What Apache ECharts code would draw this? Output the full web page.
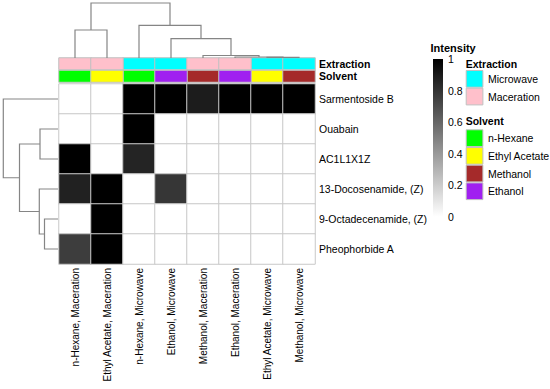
<!DOCTYPE html>
<html>
<head>
<meta charset="utf-8">
<script src="https://cdn.jsdelivr.net/npm/echarts@6/dist/echarts.min.js"></script>
<style>html,body{margin:0;padding:0;background:#fff}#c{width:550px;height:389px}</style>
</head>
<body>
<div id="c"></div>
<script>
// ---- data ----
var rowNames = ['Sarmentoside B', 'Ouabain', 'AC1L1X1Z', '13-Docosenamide, (Z)', '9-Octadecenamide, (Z)', 'Pheophorbide A'];
var colExtraction = ['Maceration', 'Maceration', 'Microwave', 'Microwave', 'Maceration', 'Maceration', 'Microwave', 'Microwave'];
var colSolvent = ['n-Hexane', 'Ethyl Acetate', 'n-Hexane', 'Ethanol', 'Methanol', 'Ethanol', 'Ethyl Acetate', 'Methanol'];
var intensity = [
  [0, 0, 1, 1, 0.89, 1, 1, 1],
  [0, 0, 1, 0, 0, 0, 0, 0],
  [1, 0, 0.86, 0, 0, 0, 0, 0],
  [0.87, 1, 0, 0.79, 0, 0, 0, 0],
  [0, 1, 0, 0, 0, 0, 0, 0],
  [0.76, 1, 0, 0, 0, 0, 0, 0]
];
var intensityTicks = [0, 0.2, 0.4, 0.6, 0.8, 1];
var extractionLevels = ['Microwave', 'Maceration'];
var extractionColors = ['#00FFFF', '#FFC0CB'];
var solventLevels = ['n-Hexane', 'Ethyl Acetate', 'Methanol', 'Ethanol'];
var solventColors = ['#00FF00', '#FFFF00', '#A52A2A', '#A020F0'];
// dendrogram merges: [left node, right node, height]; leaves 0..n-1, merge k gets id n+k
var colMerges = [[6, 7, 0.7], [5, 8, 1.0], [4, 9, 2.5], [3, 10, 19.3], [2, 11, 32.7], [0, 1, 28], [13, 12, 55]];
var rowMerges = [[4, 5, 13.5], [3, 6, 18.7], [1, 2, 18], [8, 7, 38.5], [0, 9, 54.7]];

// ---- build ----
var colNames = colSolvent.map(function (s, i) { return s + ', ' + colExtraction[i]; });
function dendroSegments(n, merges) {
  var pos = [], hgt = [];
  for (var i = 0; i < n; i++) { pos.push(i); hgt.push(0); }
  var out = [];
  merges.forEach(function (m) {
    var a = m[0], b = m[1], h = m[2];
    out.push([pos[a], pos[b], hgt[a], hgt[b], h]);
    pos.push((pos[a] + pos[b]) / 2); hgt.push(h);
  });
  return out;
}
var colSeg = dendroSegments(colNames.length, colMerges);
var rowSeg = dendroSegments(rowNames.length, rowMerges);

var heatData = [];
intensity.forEach(function (row, r) { row.forEach(function (v, c) { heatData.push([c, r, v]); }); });

var FONT = 'Arial, "Liberation Sans", sans-serif';
var TXT = '#000';
var dendroColor = '#858585';

var series = [];
// main heatmap
series.push({
  name: 'Intensity', type: 'heatmap', xAxisIndex: 0, yAxisIndex: 0, data: heatData,
  itemStyle: { borderColor: '#c8c8c8', borderWidth: 1 },
  emphasis: { disabled: true }
});
// annotation rows
extractionLevels.forEach(function (lv, k) {
  var d = [];
  colExtraction.forEach(function (e, c) { if (e === lv) d.push([c, 0, 1]); });
  series.push({ name: lv, type: 'heatmap', xAxisIndex: 1, yAxisIndex: 1, data: d,
    itemStyle: { color: extractionColors[k], borderColor: '#c0c0c0', borderWidth: 1 }, emphasis: { disabled: true } });
});
solventLevels.forEach(function (lv, k) {
  var d = [];
  colSolvent.forEach(function (e, c) { if (e === lv) d.push([c, 0, 1]); });
  series.push({ name: lv, type: 'heatmap', xAxisIndex: 2, yAxisIndex: 2, data: d,
    itemStyle: { color: solventColors[k], borderColor: '#c0c0c0', borderWidth: 1 }, emphasis: { disabled: true } });
});
// column dendrogram
series.push({
  type: 'custom', xAxisIndex: 3, yAxisIndex: 3, clip: false, data: colSeg, silent: true,
  renderItem: function (params, api) {
    var xl = api.value(0), xr = api.value(1), hl = api.value(2), hr = api.value(3), h = api.value(4);
    var pts = [api.coord([xl, hl]), api.coord([xl, h]), api.coord([xr, h]), api.coord([xr, hr])];
    return { type: 'polyline', shape: { points: pts }, style: { stroke: dendroColor, lineWidth: 1.2, fill: null } };
  }
});
// row dendrogram
series.push({
  type: 'custom', xAxisIndex: 4, yAxisIndex: 4, clip: false, data: rowSeg, silent: true,
  renderItem: function (params, api) {
    var yl = api.value(0), yr = api.value(1), hl = api.value(2), hr = api.value(3), h = api.value(4);
    var pts = [api.coord([hl, yl]), api.coord([h, yl]), api.coord([h, yr]), api.coord([hr, yr])];
    return { type: 'polyline', shape: { points: pts }, style: { stroke: dendroColor, lineWidth: 1.2, fill: null } };
  }
});
// color bar
series.push({
  type: 'bar', xAxisIndex: 5, yAxisIndex: 5, data: [intensityTicks[intensityTicks.length - 1]], barWidth: 10, silent: true,
  itemStyle: { color: new echarts.graphic.LinearGradient(0, 0, 0, 1, [{ offset: 0, color: '#000000' }, { offset: 1, color: '#ffffff' }]) }
});

var option = {
  animation: false,
  backgroundColor: '#fff',
  textStyle: { fontFamily: FONT },
  grid: [
    { left: 59, top: 84, width: 256, height: 180 },
    { left: 59, top: 58, width: 256, height: 11.5 },
    { left: 59, top: 70.5, width: 256, height: 11.5 },
    { left: 59, top: 3, width: 256, height: 55 },
    { left: 3, top: 84, width: 55, height: 180 },
    { left: 433, top: 59, width: 10, height: 157.7 }
  ],
  xAxis: [
    { gridIndex: 0, type: 'category', data: colNames, axisLine: { show: false }, axisTick: { show: false },
      splitLine: { show: false },
      axisLabel: { rotate: 90, fontSize: 10, color: TXT, margin: 4, fontFamily: FONT, interval: 0 } },
    { gridIndex: 1, type: 'category', data: colNames, show: false },
    { gridIndex: 2, type: 'category', data: colNames, show: false },
    { gridIndex: 3, type: 'value', min: -0.5, max: colNames.length - 0.5, show: false },
    { gridIndex: 4, type: 'value', min: 0, max: 55, inverse: true, show: false },
    { gridIndex: 5, type: 'category', data: ['Intensity'], show: false }
  ],
  yAxis: [
    { gridIndex: 0, type: 'category', data: rowNames, inverse: true, position: 'right',
      axisLine: { show: false }, axisTick: { show: false },
      axisLabel: { fontSize: 10.5, color: TXT, margin: 4, fontFamily: FONT, interval: 0 } },
    { gridIndex: 1, type: 'category', data: ['Extraction'], position: 'right',
      axisLine: { show: false }, axisTick: { show: false },
      axisLabel: { fontSize: 10.5, fontWeight: 'bold', color: TXT, margin: 4, fontFamily: FONT } },
    { gridIndex: 2, type: 'category', data: ['Solvent'], position: 'right',
      axisLine: { show: false }, axisTick: { show: false },
      axisLabel: { fontSize: 10.5, fontWeight: 'bold', color: TXT, margin: 4, fontFamily: FONT } },
    { gridIndex: 3, type: 'value', min: 0, max: 55, show: false },
    { gridIndex: 4, type: 'value', min: -0.5, max: rowNames.length - 0.5, inverse: true, show: false },
    { gridIndex: 5, type: 'value', min: intensityTicks[0], max: intensityTicks[intensityTicks.length - 1],
      interval: intensityTicks[1] - intensityTicks[0], position: 'right',
      axisLine: { show: false }, axisTick: { show: false }, splitLine: { show: false },
      axisLabel: { fontSize: 10.5, color: TXT, margin: 5, fontFamily: FONT } }
  ],
  visualMap: [{ type: 'continuous', show: false, min: 0, max: 1, seriesIndex: 0, inRange: { color: ['#ffffff', '#000000'] } }],
  legend: [
    { data: extractionLevels, orient: 'vertical', left: 465.7, top: 70, padding: 0, itemGap: 0,
      itemWidth: 16.7, itemHeight: 16.7, icon: 'rect', selectedMode: false,
      itemStyle: { borderColor: '#c0c0c0', borderWidth: 1 },
      textStyle: { fontSize: 10.5, color: TXT, fontFamily: FONT } },
    { data: solventLevels, orient: 'vertical', left: 465.7, top: 129.3, padding: 0, itemGap: 0,
      itemWidth: 16.7, itemHeight: 16.7, icon: 'rect', selectedMode: false,
      itemStyle: { borderColor: '#c0c0c0', borderWidth: 1 },
      textStyle: { fontSize: 10.5, color: TXT, fontFamily: FONT } }
  ],
  graphic: [
    { type: 'text', x: 430.5, y: 48, style: { text: 'Intensity', fill: TXT, font: 'bold 11px ' + FONT, verticalAlign: 'middle' } },
    { type: 'text', x: 465.7, y: 63.5, style: { text: 'Extraction', fill: TXT, font: 'bold 10.5px ' + FONT, verticalAlign: 'middle' } },
    { type: 'text', x: 465.7, y: 121, style: { text: 'Solvent', fill: TXT, font: 'bold 10.5px ' + FONT, verticalAlign: 'middle' } }
  ],
  series: series
};

var chart = echarts.init(document.getElementById('c'), null, { renderer: 'svg', width: 550, height: 389 });
chart.setOption(option);
</script>
</body>
</html>
